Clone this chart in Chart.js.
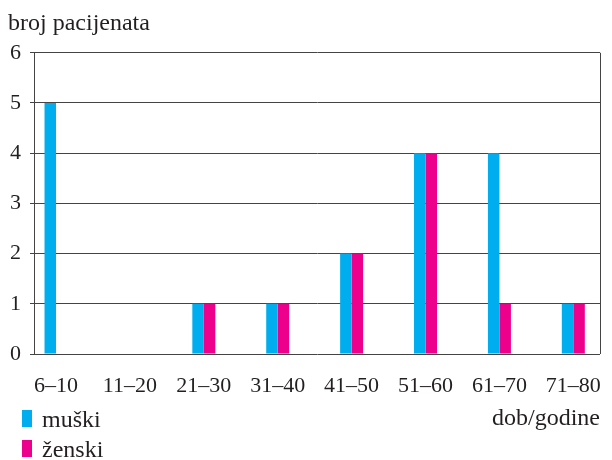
<!DOCTYPE html>
<html>
<head>
<meta charset="utf-8">
<script src="https://cdn.jsdelivr.net/npm/chart.js@4/dist/chart.umd.min.js"></script>
<style>
  html, body { margin: 0; padding: 0; background: #fff; }
  #wrap { width: 612px; height: 460px; }
</style>
</head>
<body>
<div id="wrap"><canvas id="chart" width="612" height="460"></canvas></div>
<script>
// Data
const ageGroups = ['6–10', '11–20', '21–30', '31–40', '41–50', '51–60', '61–70', '71–80'];
const maleCounts = [5, 0, 1, 1, 2, 4, 4, 1];
const femaleCounts = [0, 0, 1, 1, 2, 4, 1, 1];
const seriesNames = ['muški', 'ženski'];
const yTicks = [0, 1, 2, 3, 4, 5, 6];

const textColor = '#231f20';
const serif = 'Liberation Serif';

// one point per age group, x = index of the group
function toPoints(values) {
    return values.map((v, i) => ({ x: i, y: v }));
}

// Legend stacked under the axis, left side
const sideLegend = {
    id: 'sideLegend',
    afterDraw(chart) {
        const ctx = chart.ctx;
        ctx.save();
        ctx.font = '24px "' + serif + '"';
        ctx.textBaseline = 'alphabetic';
        ctx.textAlign = 'left';
        chart.data.datasets.forEach((ds, i) => {
            const base = 427 + i * 30;
            ctx.fillStyle = ds.backgroundColor;
            ctx.fillRect(22, base - 17, 10, 17);
            ctx.fillStyle = textColor;
            ctx.fillText(ds.label, 42, base);
        });
        ctx.restore();
    }
};

// Right edge of the plot frame
const frameRight = {
    id: 'frameRight',
    afterDatasetsDraw(chart) {
        const { ctx, chartArea } = chart;
        ctx.save();
        ctx.strokeStyle = '#444';
        ctx.lineWidth = 1;
        ctx.beginPath();
        ctx.moveTo(Math.round(chartArea.right) + 0.5, chartArea.top);
        ctx.lineTo(Math.round(chartArea.right) + 0.5, chartArea.bottom);
        ctx.stroke();
        ctx.restore();
    }
};

new Chart(document.getElementById('chart'), {
    type: 'bar',
    data: {
        datasets: [{
            label: seriesNames[0],
            data: toPoints(maleCounts),
            backgroundColor: '#00aeef'
        }, {
            label: seriesNames[1],
            data: toPoints(femaleCounts),
            backgroundColor: '#ec008c'
        }]
    },
    options: {
        responsive: false,
        animation: false,
        barThickness: 11.5,
        inflateAmount: 0,
        layout: { padding: { left: 8, right: 12, top: 0, bottom: 0 } },
        plugins: {
            legend: { display: false },
            tooltip: { enabled: false },
            title: {
                display: true,
                text: 'broj pacijenata',
                align: 'start',
                color: textColor,
                font: { family: serif, size: 24, weight: 'normal' },
                padding: { top: 9, bottom: 15 }
            }
        },
        scales: {
            x: {
                type: 'linear',
                offset: false,
                min: -0.298,
                max: 7.361,
                grid: { display: false, drawTicks: false, offset: false },
                border: { display: false },
                ticks: {
                    stepSize: 1,
                    includeBounds: false,
                    autoSkip: false,
                    maxRotation: 0,
                    padding: 19,
                    color: textColor,
                    font: { family: serif, size: 22 },
                    callback: v => ageGroups[v] ?? ''
                },
                title: {
                    display: true,
                    text: 'dob/godine',
                    align: 'end',
                    color: textColor,
                    font: { family: serif, size: 24 },
                    padding: { top: 0, bottom: 27 }
                },
                afterFit(scale) {
                    scale.height = 106;
                    // labels fit inside the frame, no extra side room needed
                    scale.paddingLeft = 0;
                    scale.paddingRight = 0;
                }
            },
            y: {
                min: yTicks[0],
                max: yTicks[yTicks.length - 1],
                grid: { color: '#444', lineWidth: 1, tickLength: 4 },
                border: { display: true, color: '#444' },
                ticks: {
                    stepSize: 1,
                    padding: 9,
                    color: textColor,
                    font: { family: serif, size: 22 }
                },
                afterFit(scale) { scale.width = 26; }
            }
        }
    },
    plugins: [sideLegend, frameRight]
});
</script>
</body>
</html>
